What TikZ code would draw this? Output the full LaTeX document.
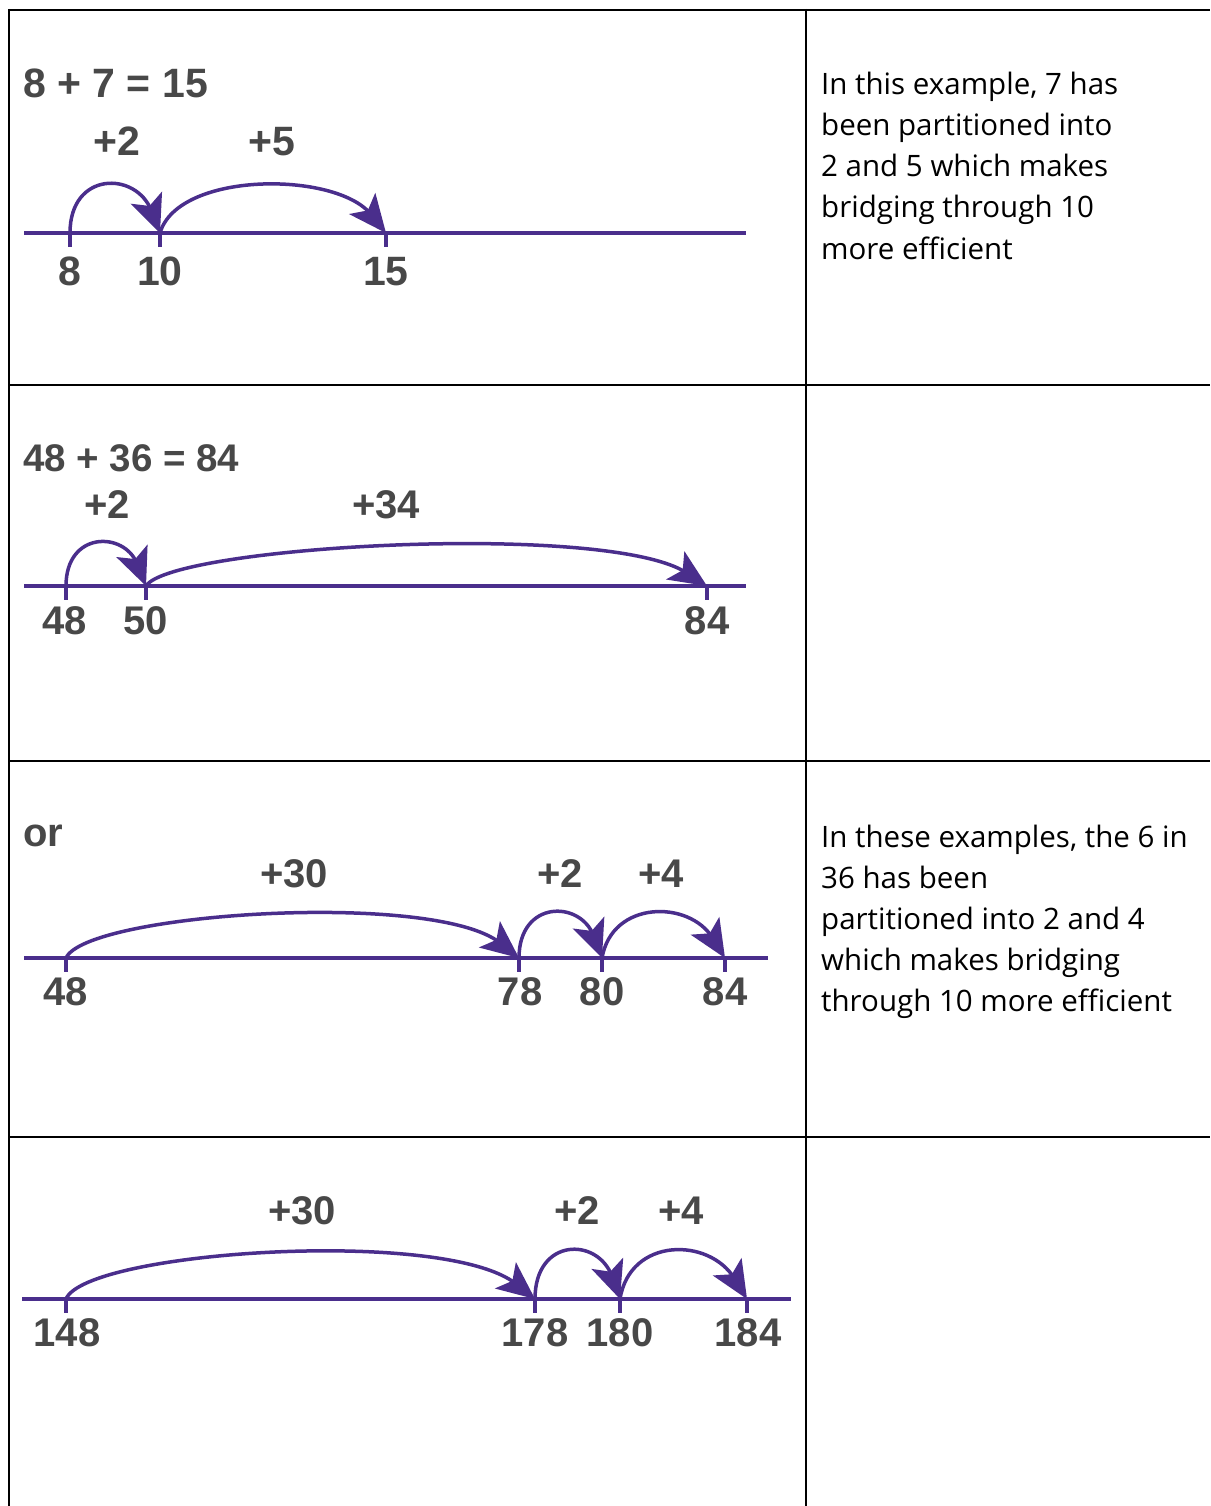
\documentclass[tikz,border=0pt]{standalone}
\usepackage{fontspec}
\usetikzlibrary{calc}
\newfontfamily\numf{Liberation Sans}
\newfontfamily\txtf{Open Sans}
\definecolor{pcol}{RGB}{74,46,140}
\definecolor{gcol}{RGB}{72,72,72}
\tikzset{
  grid line/.style={draw=black, line width=2pt},
  numline/.style={draw=pcol, line width=3.5pt},
  tickmark/.style={draw=pcol, line width=4pt},
  jump/.style={draw=pcol, line width=3.5pt, shorten >=24pt},
  jumphead/.style={fill=pcol, draw=none},
  lbl/.style={text=gcol, font=\numf\bfseries\fontsize{40}{48}\selectfont, inner sep=0pt, anchor=base},
  note/.style={text=black, font=\txtf\fontsize{29.5}{41}\selectfont, inner sep=0pt, anchor=base west}
}
% #1 start, #2 end, #3,#4 first control offset, #5,#6 second control offset
\newcommand\jumparc[6]{%
  \draw[jump] (#1) .. controls +(#3,#4) and +(#5,#6) .. (#2);
  \pgfmathsetmacro\bk{atan2(#6,#5)}%
  \path[jumphead] (#2) -- +({\bk+24}:41.6) -- +(\bk:29) -- +({\bk-24}:41.6) -- cycle;
}
\begin{document}
\begin{tikzpicture}[x=1pt,y=-1pt]
\useasboundingbox (0,0) rectangle (1210,1506);
\fill[white] (0,0) rectangle (1210,1506);
% table
\draw[grid line] (9,10) -- (1210,10);
\draw[grid line] (9,385) -- (1210,385);
\draw[grid line] (9,761) -- (1210,761);
\draw[grid line] (9,1137) -- (1210,1137);
\draw[grid line] (9,9) -- (9,1506);
\draw[grid line] (806,9) -- (806,1506);

% ---------- row 1
\coordinate (a8) at (70,233);
\coordinate (a10) at (160,233);
\coordinate (a15) at (386,233);
\coordinate (l1s) at (24,233);
\coordinate (l1e) at (746,233);
\draw[numline, line width=4.5pt] (l1s) -- (l1e);
\foreach \p in {a8,a10,a15} \draw[tickmark] (\p) -- ++(0,14);
\jumparc{a8}{a10}{0}{-62}{-24}{-62}
\jumparc{a10}{a15}{18}{-62}{-50}{-62}
\node[lbl, anchor=base west, font=\numf\bfseries\fontsize{41}{48}\selectfont] (eq1) at (23,98) {8 + 7 = 15};
\node[lbl, font=\numf\bfseries\fontsize{41}{48}\selectfont] (p1a) at (117,156) {+2};
\node[lbl, font=\numf\bfseries\fontsize{41}{48}\selectfont] (p1b) at (272,156) {+5};
\node[lbl, font=\numf\bfseries\fontsize{41}{48}\selectfont] (n1a) at (70,285) {8};
\node[lbl, font=\numf\bfseries\fontsize{41}{48}\selectfont] (n1b) at (160,285) {10};
\node[lbl, font=\numf\bfseries\fontsize{41}{48}\selectfont] (n1c) at (386,285) {15};
\foreach \t [count=\i] in {{In this example, 7 has},{been partitioned into},{2 and 5 which makes},{bridging through 10},{more efficient}}
  \node[note] (r1-\i) at (821,{95+41*(\i-1)}) {\t};

% ---------- row 2
\coordinate (b48) at (66,586);
\coordinate (b50) at (146,586);
\coordinate (b84) at (707,586);
\coordinate (l2s) at (24,586);
\coordinate (l2e) at (746,586);
\draw[numline] (l2s) -- (l2e);
\foreach \p in {b48,b50,b84} \draw[tickmark] (\p) -- ++(0,14);
\jumparc{b48}{b50}{0}{-55}{-22}{-55}
\jumparc{b50}{b84}{25}{-40}{-100}{-65}
\node[lbl, anchor=base west, font=\numf\bfseries\fontsize{38.5}{48}\selectfont] (eq2) at (23,471) {48 + 36 = 84};
\node[lbl] (p2a) at (107,518) {+2};
\node[lbl] (p2b) at (386,518) {+34};
\node[lbl] (n2a) at (65,634) {48};
\node[lbl] (n2b) at (146,634) {50};
\node[lbl] (n2c) at (707,634) {84};

% ---------- row 3
\coordinate (c48) at (66,958);
\coordinate (c78) at (519,958);
\coordinate (c80) at (602,958);
\coordinate (c84) at (725,958);
\coordinate (l3s) at (24,958);
\coordinate (l3e) at (768,958);
\draw[numline] (l3s) -- (l3e);
\foreach \p in {c48,c78,c80,c84} \draw[tickmark] (\p) -- ++(0,14);
\jumparc{c48}{c78}{20}{-45}{-85}{-68}
\jumparc{c78}{c80}{0}{-58}{-22}{-58}
\jumparc{c80}{c84}{10}{-58}{-36}{-58}
\node[lbl, anchor=base west] (or3) at (23,846) {or};
\node[lbl] (p3a) at (294,887) {+30};
\node[lbl] (p3b) at (560,887) {+2};
\node[lbl] (p3c) at (661,887) {+4};
\node[lbl] (n3a) at (66,1005) {48};
\node[lbl] (n3b) at (520,1005) {78};
\node[lbl] (n3c) at (602,1005) {80};
\node[lbl] (n3d) at (725,1005) {84};
\foreach \t [count=\i] in {{In these examples, the 6 in},{36 has been},{partitioned into 2 and 4},{which makes bridging},{through 10 more efficient}}
  \node[note] (r3-\i) at (821,{847+41*(\i-1)}) {\t};

% ---------- row 4
\coordinate (d148) at (66,1299);
\coordinate (d178) at (535,1299);
\coordinate (d180) at (620,1299);
\coordinate (d184) at (747,1299);
\coordinate (l4s) at (22,1299);
\coordinate (l4e) at (791,1299);
\draw[numline] (l4s) -- (l4e);
\foreach \p in {d148,d178,d180,d184} \draw[tickmark] (\p) -- ++(0,14);
\jumparc{d148}{d178}{20}{-48}{-90}{-72}
\jumparc{d178}{d180}{0}{-62}{-22}{-62}
\jumparc{d180}{d184}{10}{-62}{-38}{-62}
\node[lbl] (p4a) at (302,1224) {+30};
\node[lbl] (p4b) at (577,1224) {+2};
\node[lbl] (p4c) at (681,1224) {+4};
\node[lbl] (n4a) at (67,1346) {148};
\node[lbl] (n4b) at (535,1346) {178};
\node[lbl] (n4c) at (620,1346) {180};
\node[lbl] (n4d) at (748,1346) {184};
\end{tikzpicture}
\end{document}
